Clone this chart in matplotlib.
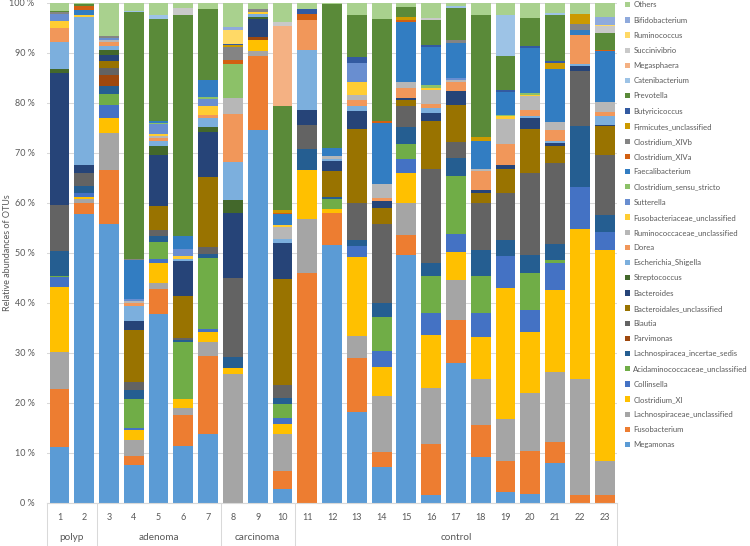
import numpy as np
import matplotlib
matplotlib.use('Agg')
import matplotlib.pyplot as plt

plt.rcParams['font.family'] = ['Lato', 'DejaVu Sans']

samples = [str(i) for i in range(1, 24)]
groups = ['polyp', 'adenoma', 'carcinoma', 'control']
group_sizes = [2, 5, 3, 13]
ytick_labels = ['0 %', '10 %', '20 %', '30 %', '40 %', '50 %', '60 %', '70 %', '80 %', '90 %', '100 %']

# taxa from the bottom of the stack up
taxa = ['Megamonas', 'Fusobacterium', 'Lachnospiraceae_unclassified', 'Clostridium_XI',
        'Collinsella', 'Acidaminococcaceae_unclassified', 'Lachnospiracea_incertae_sedis',
        'Parvimonas', 'Blautia', 'Bacteroidales_unclassified', 'Bacteroides', 'Streptococcus',
        'Escherichia_Shigella', 'Dorea', 'Ruminococcaceae_unclassified',
        'Fusobacteriaceae_unclassified', 'Sutterella', 'Clostridium_sensu_stricto',
        'Faecalibacterium', 'Clostridium_XlVa', 'Clostridium_XlVb', 'Firmicutes_unclassified',
        'Butyricicoccus', 'Prevotella', 'Catenibacterium', 'Megasphaera', 'Succinivibrio',
        'Ruminococcus', 'Bifidobacterium', 'Others']

colors = ['#5B9BD5', '#ED7D31', '#A5A5A5', '#FFC000', '#4472C4', '#70AD47', '#255E91',
          '#9E480E', '#636363', '#997300', '#264478', '#43682B', '#7CAFDD', '#F1975A',
          '#B7B7B7', '#FFCD33', '#698ED0', '#8CC168', '#327DC2', '#D26012', '#848484',
          '#CC9A00', '#335AA1', '#5A8A39', '#9DC3E6', '#F4B183', '#C9C9C9', '#FFD966',
          '#8FAADC', '#A9D18E']

# relative abundance (%) per sample 1..23
megamonas = [11.2, 57.7, 55.7, 7.6, 37.7, 11.3, 13.8, 0, 74.5, 2.8, 0, 51.6, 18.2, 7.1, 49.5, 1.5, 27.9, 9.1, 2.1, 1.8, 8.0, 0, 0]
fusobacterium = [11.6, 2.3, 10.8, 1.7, 5.1, 6.3, 15.6, 0, 14.8, 3.5, 46.0, 6.3, 10.7, 3.0, 4.0, 10.3, 8.7, 6.5, 6.3, 8.6, 4.1, 1.5, 1.6]
lachno_uncl = [7.3, 0.7, 7.5, 3.3, 1.2, 1.3, 2.8, 25.7, 1.0, 7.5, 10.8, 0, 4.5, 11.3, 6.5, 11.1, 8.0, 9.2, 8.4, 11.6, 14.0, 23.3, 6.7]
clostridium_xi = [13.0, 0.5, 3.0, 2.0, 4.0, 1.9, 2.0, 1.2, 2.3, 2.0, 9.7, 0.8, 15.8, 5.7, 5.9, 10.7, 5.6, 8.3, 26.2, 12.1, 16.4, 29.9, 42.3]
collinsella = [2.0, 0.7, 2.6, 0.4, 0.8, 0, 0.5, 0, 0, 1.1, 0, 0, 2.2, 3.2, 2.9, 4.3, 3.6, 4.8, 6.4, 4.5, 5.4, 8.4, 3.6]
acidamino_uncl = [0.2, 0, 2.2, 5.8, 3.4, 11.3, 14.3, 0, 0, 2.9, 0, 2.1, 0, 6.8, 3.0, 7.5, 11.5, 7.5, 0, 7.4, 0.7, 0, 0]
lachno_is = [5.0, 1.4, 1.6, 1.8, 1.2, 0.4, 0.7, 2.2, 0, 1.1, 4.3, 0.4, 1.2, 2.8, 3.3, 2.5, 3.7, 5.2, 3.2, 3.5, 3.1, 12.3, 3.3]
parvimonas = [0, 0, 2.2, 0, 0, 0, 0, 0, 0.5, 0, 0, 0, 0, 0, 0, 0, 0, 0, 0, 0, 0, 0, 0]
blautia = [9.2, 2.7, 1.4, 1.5, 1.1, 0.4, 1.5, 15.9, 0, 2.7, 4.8, 0, 7.3, 15.8, 4.3, 18.8, 3.1, 9.3, 9.3, 16.4, 16.2, 10.9, 12.1]
bacteroidales_uncl = [0, 0, 1.3, 10.5, 4.8, 8.5, 14.0, 0, 0, 21.1, 0, 5.1, 14.8, 3.3, 1.1, 9.6, 7.4, 2.0, 4.8, 8.9, 3.4, 0, 5.7]
bacteroides = [26.4, 1.5, 1.3, 1.8, 10.2, 7.0, 8.9, 13.0, 3.7, 7.3, 3.0, 2.0, 3.6, 1.3, 0.4, 1.7, 2.8, 0.6, 0.8, 2.2, 0.7, 1.0, 0.3]
streptococcus = [0.8, 0, 1.0, 0, 1.8, 0, 1.0, 2.5, 0.4, 0, 0, 0, 0, 0, 0, 0, 0, 0, 0, 0, 0, 0, 0]
escherichia = [5.4, 29.6, 0.8, 2.9, 1.0, 0.4, 1.9, 7.6, 0.5, 0.7, 12.0, 0.5, 1.1, 0, 0, 1.0, 0, 0, 0, 0.4, 0.3, 0.5, 1.8]
dorea = [2.8, 0, 0.7, 0.6, 0.7, 0, 0.6, 9.7, 0, 0, 5.9, 0, 1.2, 0.7, 2.1, 0.8, 1.8, 3.8, 4.2, 1.1, 2.2, 5.8, 0.7]
rumino_uncl = [0, 0, 0.4, 0.5, 0.3, 0, 0, 3.1, 0, 2.5, 0, 0.5, 1.0, 2.8, 1.1, 2.8, 0.5, 0.5, 5.1, 2.8, 1.6, 0, 2.0]
fusobact_uncl = [1.5, 0.4, 0, 0, 0.4, 0.6, 1.8, 0, 0.4, 0.4, 0, 0, 2.5, 0, 0, 0.4, 0, 0, 0.5, 0.2, 0, 0, 0]
sutterella = [1.4, 0, 0.5, 0.3, 2.0, 1.3, 1.4, 0, 0, 0, 0, 0, 3.9, 0, 0, 0, 0.4, 0, 0, 0, 0, 0, 0]
clost_sensu = [0, 0, 0, 0, 0.3, 0, 0.4, 6.9, 0, 0, 0, 0, 0, 0, 0, 0.6, 0, 0, 0.3, 0.5, 0, 0, 0]
faecalibacterium = [0, 1.1, 0, 7.8, 0.3, 2.7, 3.4, 0, 0, 2.1, 0, 1.7, 0, 12.2, 12.0, 7.6, 6.9, 5.5, 4.5, 9.0, 10.7, 1.0, 10.2]
clost_xiva = [0, 0.7, 0, 0, 0, 0, 0, 0.8, 0, 0.3, 1.3, 0, 0, 0.4, 0.5, 0, 0, 0, 0, 0, 0, 0, 0.3]
clost_xivb = [0.3, 0, 0.4, 0.3, 0, 0, 0, 2.6, 0.7, 0, 0, 0, 0, 0, 0, 0, 0.6, 0, 0, 0, 0, 1.2, 0]
firmicutes_uncl = [0, 0, 0, 0, 0, 0, 0, 0.3, 0, 0.5, 0, 0, 0, 0, 0.5, 0, 0, 0.9, 0, 0, 1.2, 2.0, 0]
butyricicoccus = [0, 0, 0, 0, 0, 0, 0, 0.2, 0, 0, 0.9, 0, 1.2, 0, 0, 0.4, 0, 0, 0.5, 0.3, 0.3, 0, 0]
prevotella = [0.2, 0.4, 0, 49.3, 20.4, 44.2, 14.1, 0, 0, 20.8, 0, 28.8, 8.3, 20.3, 2.0, 4.9, 6.5, 24.4, 6.7, 5.6, 9.2, 0, 3.3]
catenibacterium = [0, 0, 0, 0.3, 0.9, 0, 0, 0, 0, 0, 0, 0, 0, 0, 0, 0, 0.4, 0, 8.3, 0, 0.4, 0, 0]
megasphaera = [0, 0, 0, 0, 0, 0, 0, 0, 0, 16.0, 0, 0, 0, 0, 0, 0, 0, 0, 0, 0, 0, 0, 0]
succinivibrio = [0, 0, 0, 0, 0, 1.3, 0, 0, 0, 0.8, 0, 0, 0, 0, 0, 0.5, 0, 0, 0, 0, 0, 0, 1.4]
ruminococcus = [0, 0, 0, 0, 0, 0, 0, 2.9, 0, 0, 0, 0, 0, 0, 0, 0, 0, 0, 0, 0, 0, 0, 0.3]
bifidobacterium = [0, 0, 0, 0, 0, 0, 0, 0.5, 0, 0, 0, 0, 0, 0, 0, 0, 0, 0, 0, 0, 0, 0, 1.5]
others = [1.7, 0.3, 6.6, 1.6, 2.4, 1.1, 1.3, 4.9, 1.2, 3.9, 1.3, 0.2, 2.5, 3.3, 0.9, 3.0, 0.6, 2.4, 2.4, 3.1, 2.1, 2.2, 2.9]

series = [megamonas, fusobacterium, lachno_uncl, clostridium_xi, collinsella, acidamino_uncl,
          lachno_is, parvimonas, blautia, bacteroidales_uncl, bacteroides, streptococcus,
          escherichia, dorea, rumino_uncl, fusobact_uncl, sutterella, clost_sensu,
          faecalibacterium, clost_xiva, clost_xivb, firmicutes_uncl, butyricicoccus,
          prevotella, catenibacterium, megasphaera, succinivibrio, ruminococcus,
          bifidobacterium, others]

text_col = '#595959'
line_col = '#D9D9D9'

fig = plt.figure(figsize=(7.5, 5.46), dpi=100)
ax = fig.add_axes([0.0627, 0.0788, 0.76, 0.9158])

x = np.arange(1, len(samples) + 1)
bottom = np.zeros(len(samples))
for name, vals, col in zip(taxa, series, colors):
    ax.bar(x, vals, 0.8, bottom=bottom, color=col, label=name, zorder=2)
    bottom += np.array(vals)

ax.set_xlim(0.5, len(samples) + 0.5)
ax.set_ylim(0, 100)
ax.set_yticks(np.arange(0, 101, 10))
ax.set_yticklabels(ytick_labels)
ax.set_xticks(x)
ax.set_xticklabels(samples)
ax.yaxis.grid(True, color=line_col, lw=0.75)
ax.set_axisbelow(True)
for s in ['top', 'right', 'left']:
    ax.spines[s].set_visible(False)
ax.spines['bottom'].set_color(line_col)
ax.tick_params(axis='both', length=0, colors=text_col, labelsize=6.5)
ax.tick_params(axis='y', pad=9)
ax.tick_params(axis='x', pad=7)

fig.text(0.004, ax.get_position().y0 + ax.get_position().height / 2,
         'Relative abundances of OTUs', rotation=90, ha='left', va='center',
         color=text_col, fontsize=6.5)

# group labels and separators under the category axis
trans = ax.get_xaxis_transform()
edge = 0.5
for g, n in zip(groups, group_sizes):
    ax.text(edge + n / 2, -0.07, g, transform=trans, ha='center', va='center',
            color=text_col, fontsize=7.2)
    ax.plot([edge, edge], [0, -0.09], transform=trans, color=line_col, lw=0.75, clip_on=False)
    edge += n
ax.plot([edge, edge], [0, -0.09], transform=trans, color=line_col, lw=0.75, clip_on=False)

handles, labels = ax.get_legend_handles_labels()
leg = fig.legend(handles[::-1], labels[::-1], loc='upper left', bbox_to_anchor=(0.829, 1.003),
                 frameon=False, fontsize=5.6, labelspacing=1.05, handlelength=0.7,
                 handleheight=0.7, handletextpad=0.4, borderaxespad=0)
for t in leg.get_texts():
    t.set_color(text_col)

fig.savefig('out.png', dpi=100)
